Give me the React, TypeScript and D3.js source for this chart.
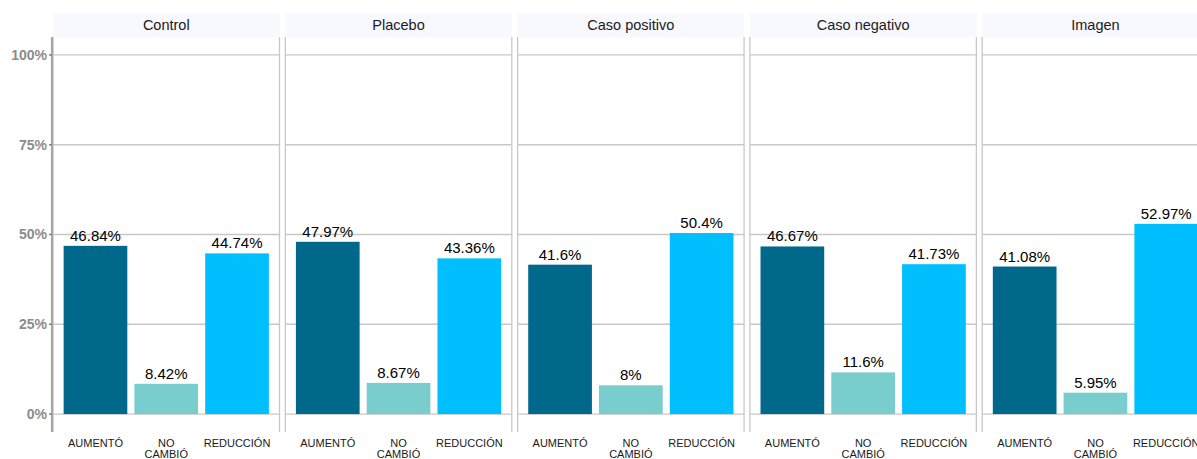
import * as d3 from "d3";
import * as React from "react";

const groups = ["Control", "Placebo", "Caso positivo", "Caso negativo", "Imagen"];
const categories = ["AUMENTÓ", "NO CAMBIÓ", "REDUCCIÓN"];
const aumento = [46.84, 47.97, 41.6, 46.67, 41.08];
const noCambio = [8.42, 8.67, 8, 11.6, 5.95];
const reduccion = [44.74, 43.36, 50.4, 41.73, 52.97];
const yTicks = [0, 25, 50, 75, 100];
const colors = ["#00688B", "#79CDCD", "#00BFFF"];

const W = 1197;
const H = 459;
const panelLeft = 53;
const panelW = 226.5;
const panelGap = 5.8;
const stripTop = 13;
const stripH = 24;
const plotTop = stripTop + stripH;
const plotBottom = 432;

const fmt = (v: number) => `${+v.toFixed(2)}%`;

export default function App() {
  const ref = React.useRef<SVGSVGElement>(null);

  React.useEffect(() => {
    const svg = d3.select(ref.current);
    svg.selectAll("*").remove();

    const y = d3.scaleLinear().domain([-5, 105]).range([plotBottom, plotTop]);
    const values = [aumento, noCambio, reduccion];

    groups.forEach((g, gi) => {
      const x0 = panelLeft + gi * (panelW + panelGap);
      const x = d3
        .scaleBand<string>()
        .domain(categories)
        .range([x0, x0 + panelW])
        .paddingInner(0.1)
        .paddingOuter(0.15);

      const panel = svg.append("g");

      // strip
      panel
        .append("rect")
        .attr("x", x0)
        .attr("y", stripTop)
        .attr("width", panelW)
        .attr("height", stripH)
        .attr("fill", "#F8F8FF");
      panel
        .append("text")
        .attr("x", x0 + panelW / 2)
        .attr("y", stripTop + stripH / 2)
        .attr("dy", "0.35em")
        .attr("text-anchor", "middle")
        .attr("font-size", 14.5)
        .attr("fill", "#1a1a1a")
        .text(g);

      // gridlines
      panel
        .selectAll("line.grid")
        .data(yTicks)
        .enter()
        .append("line")
        .attr("x1", x0)
        .attr("x2", x0 + panelW)
        .attr("y1", (d) => y(d))
        .attr("y2", (d) => y(d))
        .attr("stroke", "#C8C8C8")
        .attr("stroke-width", 1.3);

      // panel side borders
      [x0, x0 + panelW].forEach((bx) => {
        panel
          .append("line")
          .attr("x1", bx)
          .attr("x2", bx)
          .attr("y1", plotTop)
          .attr("y2", plotBottom)
          .attr("stroke", "#C8C8C8")
          .attr("stroke-width", 1.3);
      });

      const rows = categories.map((c, ci) => ({ c, v: values[ci][gi], color: colors[ci] }));

      panel
        .selectAll("rect.bar")
        .data(rows)
        .enter()
        .append("rect")
        .attr("x", (d) => x(d.c)!)
        .attr("width", x.bandwidth())
        .attr("y", (d) => y(d.v))
        .attr("height", (d) => y(0) - y(d.v))
        .attr("fill", (d) => d.color);

      panel
        .selectAll("text.val")
        .data(rows)
        .enter()
        .append("text")
        .attr("x", (d) => x(d.c)! + x.bandwidth() / 2)
        .attr("y", (d) => y(d.v) - 5)
        .attr("text-anchor", "middle")
        .attr("font-size", 15)
        .attr("fill", "#000")
        .text((d) => fmt(d.v));

      // x labels
      categories.forEach((c) => {
        const t = panel
          .append("text")
          .attr("x", x(c)! + x.bandwidth() / 2)
          .attr("y", 447)
          .attr("text-anchor", "middle")
          .attr("font-size", 11)
          .attr("fill", "#1a1a1a");
        c.split(" ").forEach((w, i) => {
          t.append("tspan")
            .attr("x", x(c)! + x.bandwidth() / 2)
            .attr("dy", i === 0 ? 0 : 11)
            .text(w);
        });
      });
    });

    // y axis
    const axis = svg.append("g");
    axis
      .append("line")
      .attr("x1", 52)
      .attr("x2", 52)
      .attr("y1", plotTop)
      .attr("y2", plotBottom)
      .attr("stroke", "#A6A6A6")
      .attr("stroke-width", 2.2);
    axis
      .selectAll("line.tick")
      .data(yTicks)
      .enter()
      .append("line")
      .attr("x1", 49)
      .attr("x2", 52)
      .attr("y1", (d) => y(d))
      .attr("y2", (d) => y(d))
      .attr("stroke", "#7F7F7F")
      .attr("stroke-width", 1.5);
    axis
      .selectAll("text")
      .data(yTicks)
      .enter()
      .append("text")
      .attr("x", 47)
      .attr("y", (d) => y(d))
      .attr("dy", "0.35em")
      .attr("text-anchor", "end")
      .attr("font-size", 14)
      .attr("font-weight", "bold")
      .attr("fill", "#8C8C8C")
      .text((d) => `${d}%`);
  }, []);

  return (
    <svg
      ref={ref}
      width={W}
      height={H}
      style={{ position: "absolute", left: 0, top: 0, fontFamily: "Arial, 'Liberation Sans', sans-serif" }}
    />
  );
}
